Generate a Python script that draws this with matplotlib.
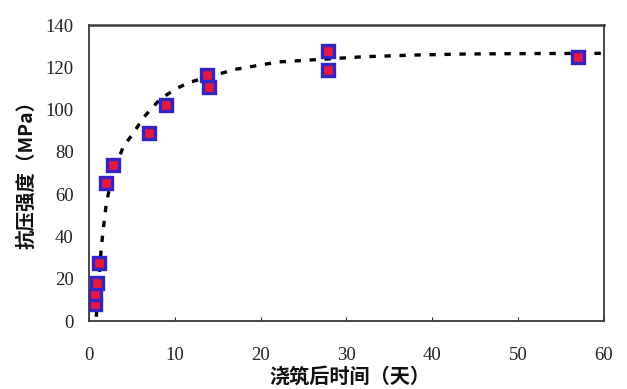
import matplotlib
matplotlib.use("Agg")
import matplotlib.pyplot as plt

# measured data points (days after casting, compressive strength MPa)
days = [0.75, 0.75, 0.95, 1.15, 2.0, 2.8, 7.0, 9.0, 13.8, 14.0, 27.8, 27.9, 57.0]
strength = [8, 13, 18, 27.5, 65.5, 74, 89, 102, 116.5, 110.5, 127.5, 118.5, 125]

# trend curve
curve_days = [0.85, 1.0, 1.2, 1.4, 1.6, 2.0, 2.5, 3.0, 4.0, 5.2, 6.3, 7.3, 8.3,
              10.2, 11.8, 14, 17, 22, 26, 32, 38, 44, 52, 60]
curve_strength = [2, 10, 22, 33, 41, 55, 65, 72, 82.5, 89, 96, 100.5, 105,
                  110, 113, 115.5, 119, 122.5, 123.5, 125, 125.8, 126.3, 126.5, 126.6]

x_ticks = [0, 10, 20, 30, 40, 50, 60]
y_ticks = [0, 20, 40, 60, 80, 100, 120, 140]
x_label = "浇筑后时间（天）"
y_label = "抗压强度（MPa）"

fig = plt.figure(figsize=(6.27, 3.89), dpi=100)
ax = fig.add_axes([0.1419, 0.1748, 0.8214, 0.7609])

ax.plot(curve_days, curve_strength, color="black", linestyle=(0, (1.9, 2.6)),
        linewidth=2.4, zorder=2)
ax.plot(days, strength, linestyle="none", marker="s", markersize=8.0,
        markerfacecolor="#e8183c", markeredgecolor="#3322c4", markeredgewidth=2.4,
        zorder=3)

ax.set_xlim(0, 60)
ax.set_ylim(0, 140)
ax.set_xticks(x_ticks)
ax.set_yticks(y_ticks)
ax.tick_params(axis="x", direction="in", length=3, width=0.8, pad=19,
               labelsize=13.5, colors="#333333", labelcolor="#222222")
ax.tick_params(axis="y", direction="in", length=0, pad=11,
               labelsize=13.5, labelcolor="#222222")
for lab in ax.get_xticklabels() + ax.get_yticklabels():
    lab.set_fontfamily(["Liberation Serif", "DejaVu Serif"])

for side, sp in ax.spines.items():
    sp.set_color("#3a3a3a")
    sp.set_linewidth(1.3)
ax.spines["top"].set_linewidth(1.8)

cjk = ["Noto Sans CJK SC", "DejaVu Sans"]
fig.text(0.558, 0.034, x_label, ha="center", va="center", fontsize=14.5,
         fontweight="bold", family=cjk, color="#111111")
fig.text(0.043, 0.563, y_label, ha="center", va="center", rotation=90,
         fontsize=14, fontweight="bold", family=cjk, color="#111111")

fig.savefig("out.png", dpi=100)
